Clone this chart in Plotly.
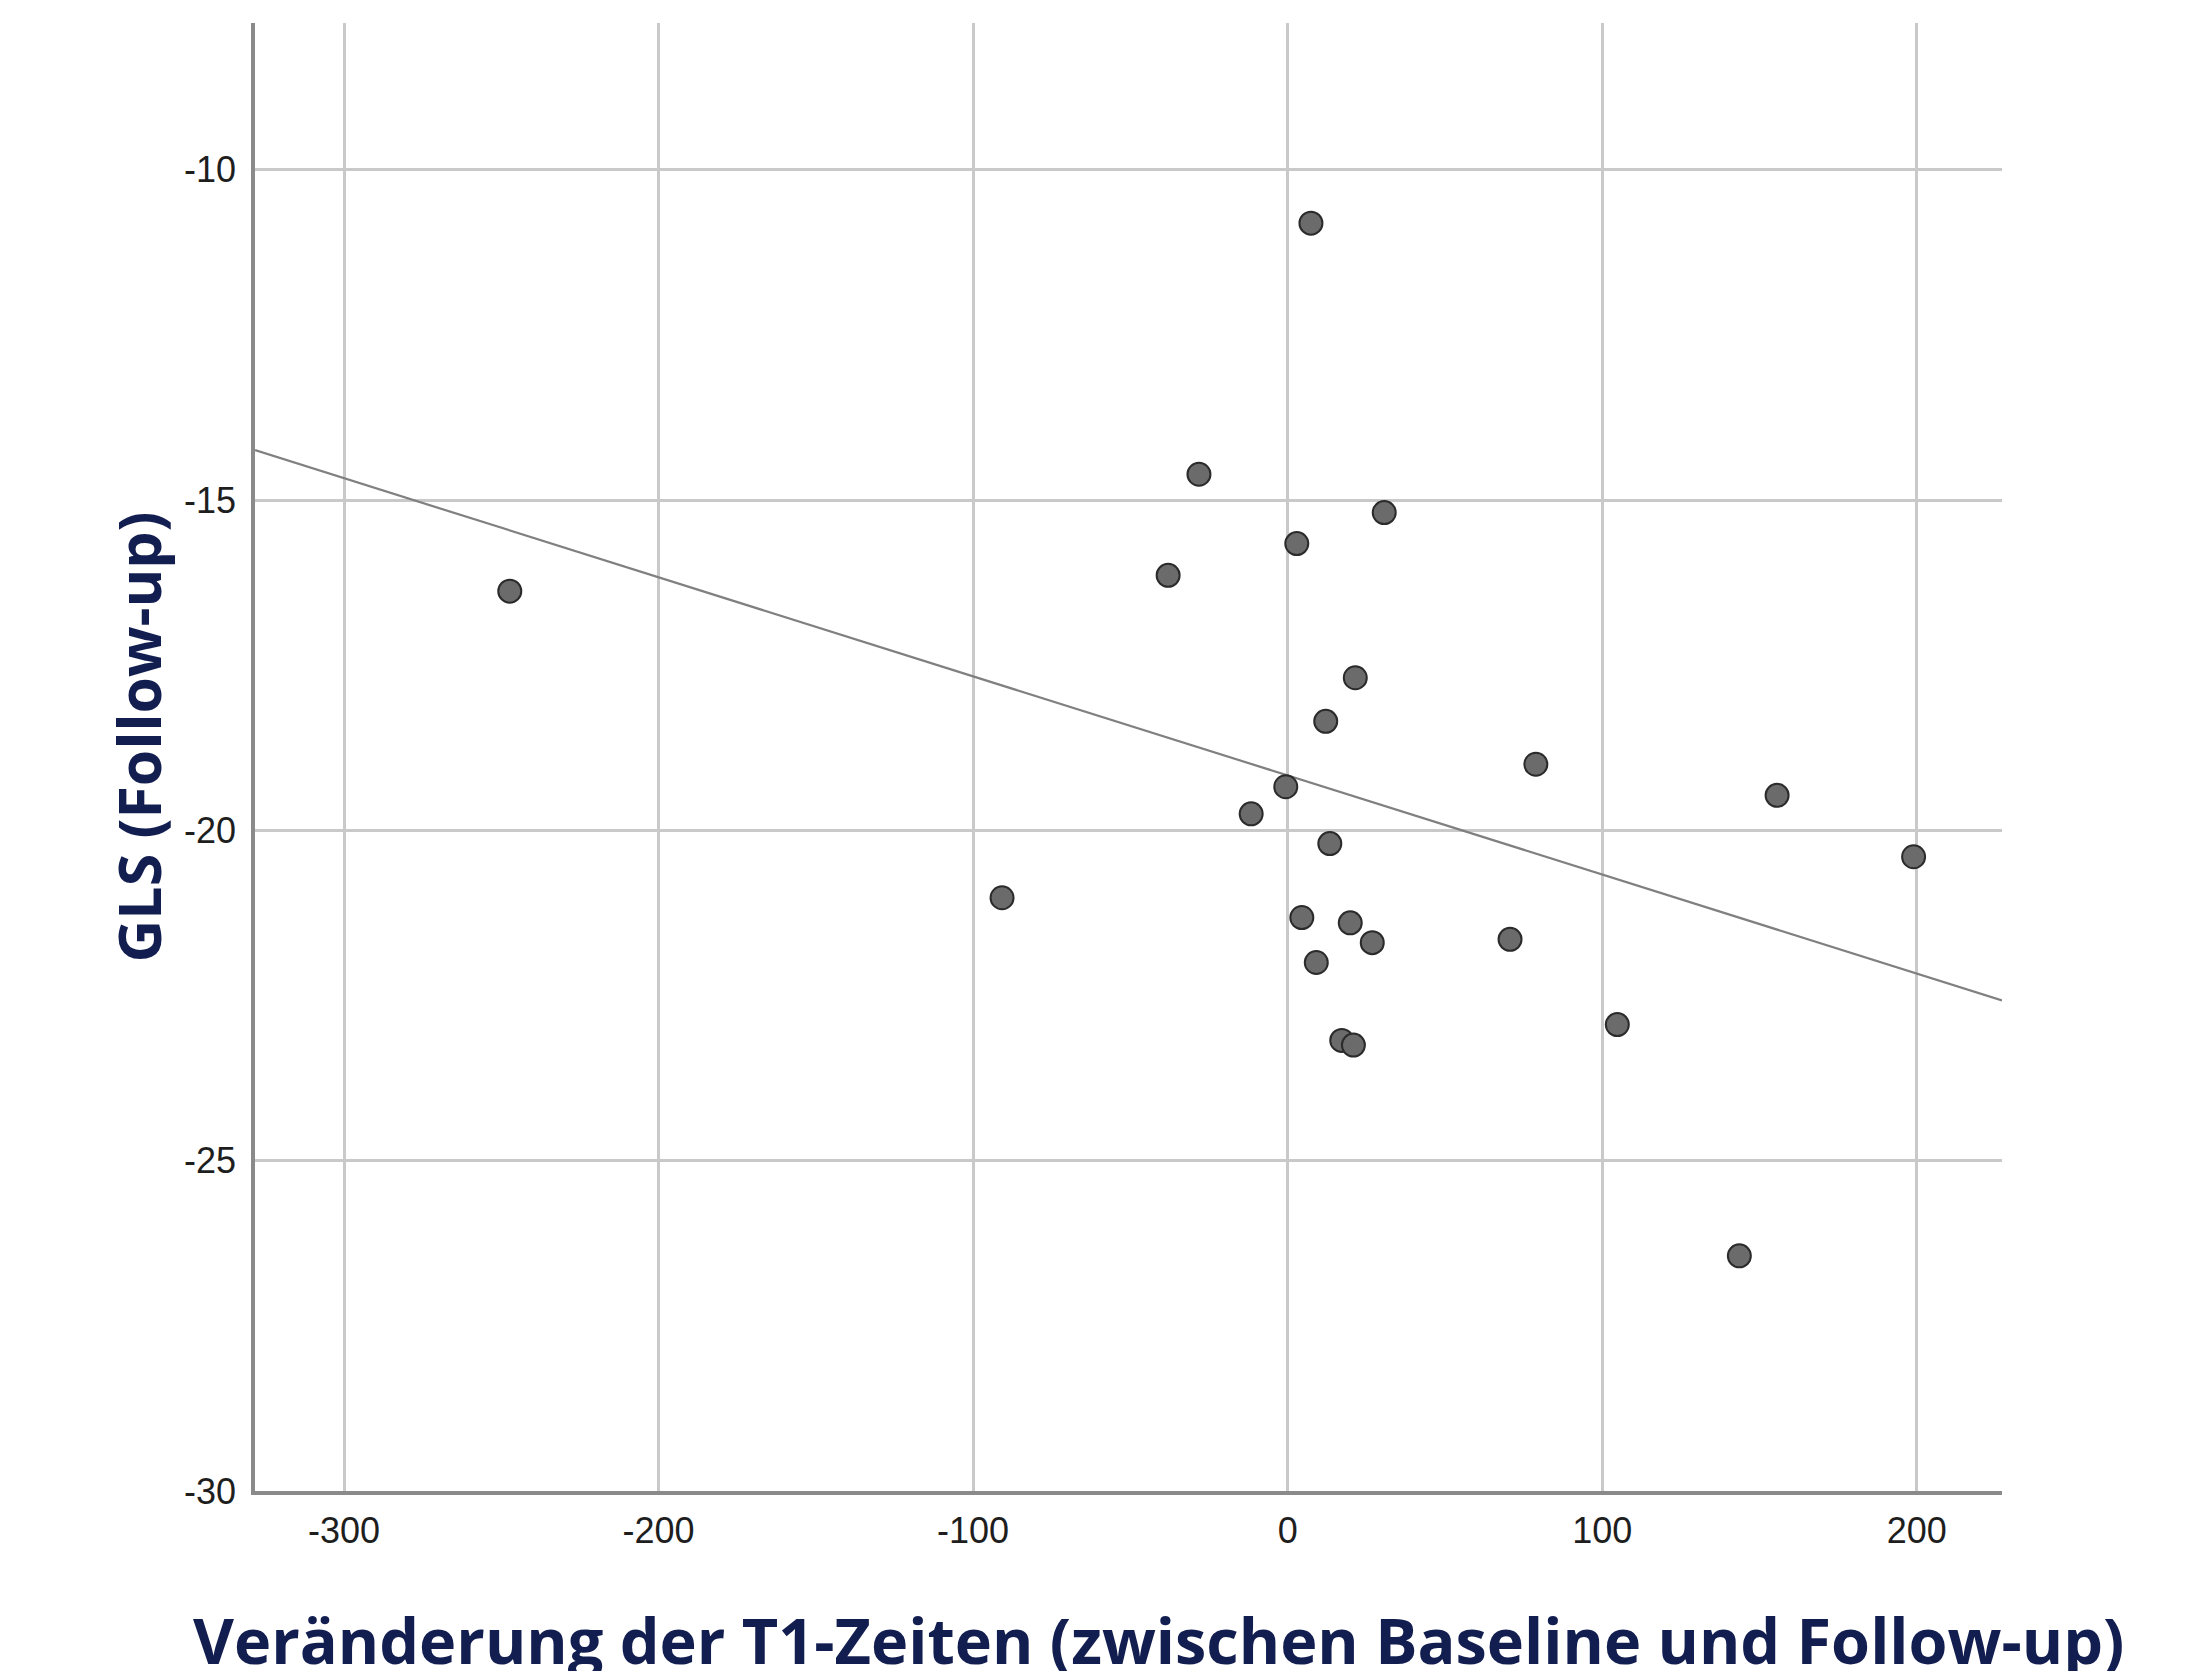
import numpy as np
import plotly.graph_objects as go

# Data
t1_change = [-247.3, -90.8, -38.0, -28.2, -11.6, -0.6, 2.9, 4.5, 7.4, 9.1, 12.1, 13.4,
             17.2, 19.9, 20.9, 21.5, 26.9, 30.7, 70.7, 78.9, 104.8, 143.6, 155.6, 199.0]
gls_followup = [-16.38, -21.02, -16.14, -14.61, -19.75, -19.34, -15.66, -21.32, -10.81, -22.0, -18.35, -20.2,
                -23.18, -21.40, -23.25, -17.69, -21.70, -15.19, -21.65, -19.0, -22.94, -26.44, -19.47, -20.40]

x_ticks = [-300, -200, -100, 0, 100, 200]
y_ticks = [-30, -25, -20, -15, -10]
x_range = [-328.3, 227.1]
y_range = [-30, -7.78]

x_title = "Veränderung der T1-Zeiten (zwischen Baseline und Follow-up)"
y_title = "GLS (Follow-up)"

# Linear fit line (SPSS-style fit line across the full x range)
slope, intercept = np.polyfit(t1_change, gls_followup, 1)
fit_x = np.array(x_range)
fit_y = intercept + slope * fit_x

fig = go.Figure()
fig.add_trace(go.Scatter(x=fit_x, y=fit_y, mode="lines",
                         line=dict(color="#808080", width=2.2), hoverinfo="skip", showlegend=False))
fig.add_trace(go.Scatter(x=t1_change, y=gls_followup, mode="markers",
                         marker=dict(size=23, color="#6b6b6b", line=dict(color="#2b2b2b", width=2)),
                         showlegend=False))

tick_font = dict(family="Liberation Sans Narrow, Arial Narrow, Liberation Sans", size=36, color="#1e1e1e")
title_font = dict(family="Open Sans", size=63, color="#131e50")
y_title_font = dict(family="Open Sans", size=59, color="#131e50")

fig.update_layout(
    width=2200, height=1663,
    margin=dict(l=247, r=206, t=15, b=180, pad=0),
    paper_bgcolor="white", plot_bgcolor="white",
    xaxis=dict(range=x_range, tickvals=x_ticks, ticktext=[str(v) for v in x_ticks],
               showgrid=True, gridcolor="#c9c9c9", gridwidth=2.5,
               showline=True, linecolor="#8a8a8a", linewidth=3.5,
               zeroline=False, ticks="outside", ticklen=5, tickcolor="rgba(0,0,0,0)",
               tickfont=tick_font),
    yaxis=dict(range=y_range, tickvals=y_ticks, ticktext=[str(v) for v in y_ticks],
               showgrid=True, gridcolor="#c9c9c9", gridwidth=3,
               showline=True, linecolor="#8a8a8a", linewidth=3.5,
               zeroline=False, ticks="outside", ticklen=8, tickcolor="rgba(0,0,0,0)",
               tickfont=tick_font),
    annotations=[
        dict(text="<b>" + x_title + "</b>", xref="paper", yref="paper",
             x=0.517, y=-0.0708, xanchor="center", yanchor="top", showarrow=False, font=title_font),
        dict(text="<b>" + y_title + "</b>", xref="paper", yref="paper", textangle=-90,
             x=-0.067, y=0.514, xanchor="center", yanchor="middle", showarrow=False, font=y_title_font),
    ],
)

fig.write_html("out.html")
